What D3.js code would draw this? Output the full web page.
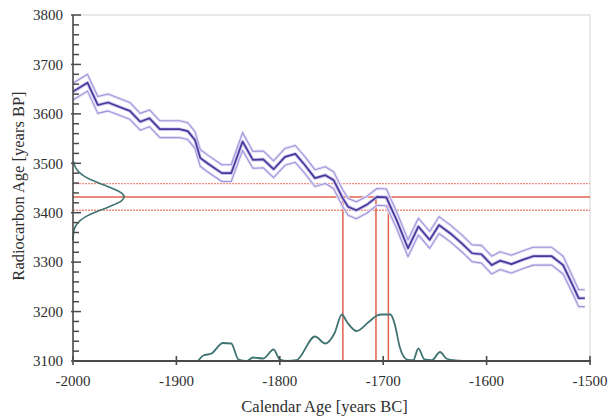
<!DOCTYPE html>
<html>
<head>
<meta charset="utf-8">
<script src="https://cdn.jsdelivr.net/npm/d3@7"></script>
<style>
  html, body { margin: 0; padding: 0; background: #fff; }
  svg { display: block; }
  text { font-family: "Liberation Serif", "DejaVu Serif", serif; fill: #2e2e2e; }
</style>
</head>
<body>
<svg id="chart" width="608" height="416"></svg>
<script>
// ---- Data ----
const xTicks = [-2000, -1900, -1800, -1700, -1600, -1500];
const yTicks = [3100, 3200, 3300, 3400, 3500, 3600, 3700, 3800];

// Calibration curve: calendar year (BC negative), radiocarbon age, 1-sigma
const calYear = [-2000, -1986, -1976, -1966, -1955, -1945, -1935, -1926, -1916, -1897, -1889, -1882, -1877, -1870,
                 -1856, -1847, -1836, -1826, -1816, -1806, -1795, -1785, -1776, -1766, -1756, -1748, -1739, -1734,
                 -1726, -1716, -1706, -1697, -1687, -1676, -1666, -1655, -1646, -1635, -1624, -1614, -1605, -1595,
                 -1587, -1576, -1566, -1555, -1537, -1526, -1516, -1511, -1505];
const calAge  = [3645, 3663, 3618, 3623, 3614, 3606, 3584, 3591, 3569, 3569, 3565, 3547, 3511, 3500,
                 3480, 3480, 3544, 3507, 3508, 3488, 3513, 3519, 3497, 3470, 3476, 3466, 3429, 3412,
                 3405, 3416, 3432, 3431, 3385, 3328, 3372, 3345, 3375, 3358, 3338, 3318, 3316, 3294,
                 3303, 3296, 3304, 3312, 3312, 3294, 3250, 3227, 3227];
const calErr  = [17, 17, 17, 17, 17, 17, 17, 17, 17, 17, 17, 17, 17, 17,
                 17, 17, 18, 17, 17, 17, 17, 17, 17, 17, 17, 17, 17, 17,
                 17, 17, 17, 17, 17, 17, 17, 17, 17, 17, 17, 17, 18, 18,
                 18, 18, 18, 18, 18, 18, 17, 17, 17];

// Measured radiocarbon age (mean and 1-sigma bounds)
const measMean = 3432;
const measLow = 3405;
const measHigh = 3459;

// Measurement distribution on the y axis (relative density)
const measAge  = [3504, 3496, 3488, 3480, 3472, 3464, 3456, 3448, 3440, 3432,
                  3424, 3416, 3408, 3400, 3392, 3384, 3376, 3368, 3360, 3352, 3344];
const measDens = [0.01, 0.03, 0.07, 0.14, 0.25, 0.41, 0.61, 0.80, 0.95, 1.0,
                  0.95, 0.80, 0.61, 0.41, 0.25, 0.14, 0.07, 0.03, 0.012, 0.004, 0];

// Calibrated probability distribution (per mille per year)
const probYear = [-1879, -1874, -1866, -1855, -1847, -1840, -1832, -1826, -1816, -1806, -1800, -1793, -1784,
                  -1766, -1756, -1747, -1740, -1735, -1726, -1714, -1706, -1702, -1693, -1689, -1684, -1677,
                  -1671, -1666, -1660, -1653, -1645, -1639, -1632, -1622];
const probVal  = [0, 1.1, 1.5, 3.6, 3.5, 0.3, 0, 0.7, 0.5, 2.3, 0.3, 0, 0.15,
                  4.9, 3.5, 5.6, 9.3, 7.8, 6.0, 7.8, 9.1, 9.3, 9.3, 7.5, 2.8, 0.3,
                  0.15, 2.5, 0.3, 0.15, 1.8, 0.5, 0.15, 0];

// Calendar years where the measured mean intersects the curve
const intercepts = [-1739, -1707, -1695];

// ---- Drawing ----
const svg = d3.select("#chart");
const L = 73, R = 590, T = 15, B = 361;

const x = d3.scaleLinear().domain([-2000, -1500]).range([L, R]);
const y = d3.scaleLinear().domain([3100, 3800]).range([B, T]);
const pScale = d3.scaleLinear().domain([0, 10]).range([0, 50]);
const gScale = d3.scaleLinear().domain([0, 1]).range([0, 51]);

svg.append("rect").attr("width", 608).attr("height", 416).attr("fill", "#fff");

// frame top & right (light)
svg.append("path")
  .attr("d", `M${L},${T}H${R}V${B}`)
  .attr("fill", "none").attr("stroke", "#e4e2e2").attr("stroke-width", 1.5);

// red horizontal lines
[measLow, measHigh].forEach(v => {
  svg.append("line")
    .attr("x1", L).attr("x2", R).attr("y1", y(v)).attr("y2", y(v))
    .attr("stroke", "#ee8e7e").attr("stroke-width", 1.3)
    .attr("stroke-dasharray", "2,1");
});
svg.append("line")
  .attr("x1", L).attr("x2", R).attr("y1", y(measMean)).attr("y2", y(measMean))
  .attr("stroke", "#e0604c").attr("stroke-width", 1.5);

// red vertical lines
intercepts.forEach(v => {
  svg.append("line")
    .attr("x1", x(v)).attr("x2", x(v)).attr("y1", y(measMean)).attr("y2", B)
    .attr("stroke", "#e0604c").attr("stroke-width", 1.5);
});

// calibration curve
const cal = calYear.map((d, i) => ({ yr: d, age: calAge[i], err: calErr[i] }));
const lineOf = f => d3.line().x(d => x(d.yr)).y(d => y(f(d)));
const upper = lineOf(d => d.age + d.err);
const lower = lineOf(d => d.age - d.err);
const mid = lineOf(d => d.age);

[upper, lower].forEach(g => {
  svg.append("path").attr("d", g(cal)).attr("fill", "none")
    .attr("stroke", "#e6e1f6").attr("stroke-width", 3).attr("stroke-linejoin", "round");
  svg.append("path").attr("d", g(cal)).attr("fill", "none")
    .attr("stroke", "#a193da").attr("stroke-width", 1.1).attr("stroke-linejoin", "round");
});
svg.append("path").attr("d", mid(cal)).attr("fill", "none")
  .attr("stroke", "#cdc5ee").attr("stroke-width", 3.6).attr("stroke-linejoin", "round");
svg.append("path").attr("d", mid(cal)).attr("fill", "none")
  .attr("stroke", "#47389a").attr("stroke-width", 1.7).attr("stroke-linejoin", "round");

// measurement distribution on y axis
const meas = measAge.map((d, i) => ({ a: d, v: measDens[i] }));
svg.append("path")
  .attr("d", d3.line().curve(d3.curveMonotoneY).x(d => L + gScale(d.v)).y(d => y(d.a))(meas))
  .attr("fill", "none").attr("stroke", "#3f7473").attr("stroke-width", 1.6);

// calibrated probability
const prob = probYear.map((d, i) => ({ yr: d, v: probVal[i] }));
svg.append("path")
  .attr("d", d3.line().curve(d3.curveMonotoneX).x(d => x(d.yr)).y(d => B - pScale(d.v))(prob))
  .attr("fill", "none").attr("stroke", "#3f7473").attr("stroke-width", 1.8);

// axes
const axisColor = "#4a4a4a";
svg.append("line").attr("x1", L).attr("x2", L).attr("y1", T).attr("y2", B)
  .attr("stroke", axisColor).attr("stroke-width", 1.6);
svg.append("line").attr("x1", L).attr("x2", R + 1).attr("y1", B).attr("y2", B)
  .attr("stroke", axisColor).attr("stroke-width", 2.2);

// y ticks: minor every 20, major every 100
y.ticks(35).forEach(v => {
  const major = yTicks.includes(v);
  svg.append("line")
    .attr("x1", major ? L - 2 : L).attr("x2", major ? L + 8 : L + 6)
    .attr("y1", y(v)).attr("y2", y(v))
    .attr("stroke", axisColor).attr("stroke-width", 1.5);
});
yTicks.forEach(v => {
  svg.append("text").attr("x", 63).attr("y", y(v)).attr("dy", "0.35em")
    .attr("text-anchor", "end").attr("font-size", 15).text(v);
});

// x ticks
xTicks.forEach(v => {
  svg.append("line").attr("x1", x(v)).attr("x2", x(v)).attr("y1", B - 5).attr("y2", B + 4)
    .attr("stroke", axisColor).attr("stroke-width", 1.6);
  svg.append("text").attr("x", x(v)).attr("y", 386)
    .attr("text-anchor", "middle").attr("font-size", 15).text(v);
});

// axis titles
svg.append("text").attr("x", (L + R) / 2 - 7).attr("y", 412)
  .attr("text-anchor", "middle").attr("font-size", 16.5).text("Calendar Age [years BC]");
svg.append("text").attr("transform", "translate(24,186) rotate(-90)")
  .attr("text-anchor", "middle").attr("font-size", 16.5).text("Radiocarbon Age [years BP]");
</script>
</body>
</html>
